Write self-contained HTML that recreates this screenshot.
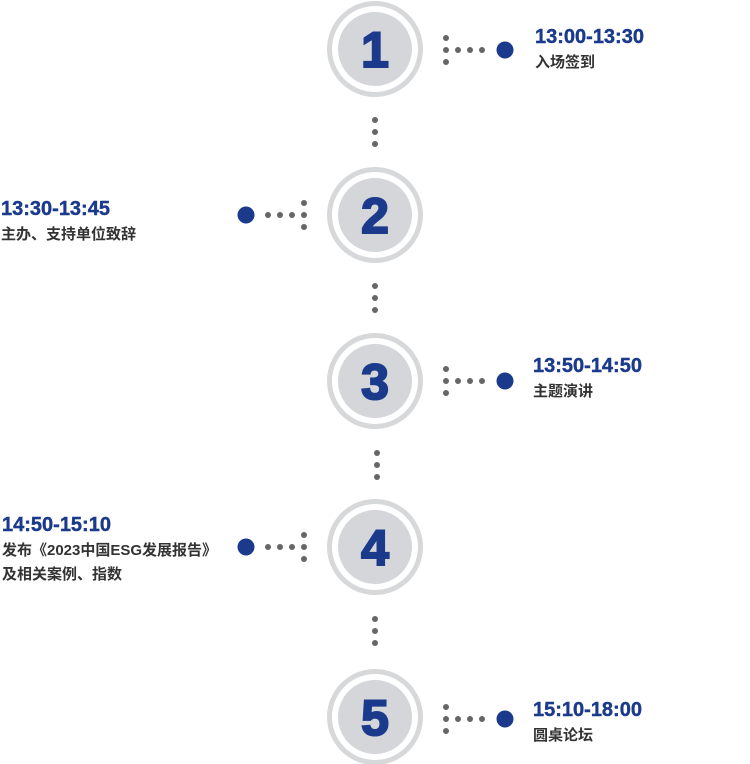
<!DOCTYPE html>
<html><head><meta charset="utf-8"><style>
html,body{margin:0;padding:0;background:#fff;width:750px;height:764px;overflow:hidden}
svg text{font-family:"Liberation Sans","Noto Sans CJK SC",sans-serif}
.t{fill:#1b3a8c;font-weight:bold;font-size:20px;stroke:#1b3a8c;stroke-width:0.4}
.s{fill:#333;font-size:15px;font-weight:bold}
.n{fill:#1b3a8c;font-weight:bold;font-size:50px;stroke:#1b3a8c;stroke-width:2}
</style></head><body>
<svg width="750" height="764" xmlns="http://www.w3.org/2000/svg">
<defs>
<g id="c"><circle r="48" fill="#d7d8da"/><circle r="43" fill="#fff"/><circle r="37" fill="#d5d6d9"/></g>
<g id="R" fill="#666"><circle cx="71" cy="-12" r="3"/><circle cx="71" cy="0" r="3"/><circle cx="71" cy="12" r="3"/><circle cx="83" cy="0" r="3"/><circle cx="95" cy="0" r="3"/><circle cx="107" cy="0" r="3"/><circle cx="130" cy="0" r="8.5" fill="#1b3a8c"/></g>
<g id="L" fill="#666"><circle cx="-71" cy="-12" r="3"/><circle cx="-71" cy="0" r="3"/><circle cx="-71" cy="12" r="3"/><circle cx="-83" cy="0" r="3"/><circle cx="-95" cy="0" r="3"/><circle cx="-107" cy="0" r="3"/><circle cx="-129" cy="0" r="8.5" fill="#1b3a8c"/></g>
<g id="V" fill="#666"><circle cy="0" r="3"/><circle cy="12" r="3"/><circle cy="24" r="3"/></g>
</defs>
<use href="#c" x="375" y="49"/><use href="#c" x="375" y="215"/><use href="#c" x="375" y="381"/><use href="#c" x="375" y="547"/><use href="#c" x="375" y="717"/>
<text class="n" x="375" y="67" text-anchor="middle">1</text>
<text class="n" x="375" y="233" text-anchor="middle">2</text>
<text class="n" x="375" y="399" text-anchor="middle">3</text>
<text class="n" x="375" y="565" text-anchor="middle">4</text>
<text class="n" x="375" y="735" text-anchor="middle">5</text>
<use href="#V" x="375" y="120"/><use href="#V" x="375" y="286"/><use href="#V" x="377" y="453"/><use href="#V" x="375" y="619"/>
<use href="#R" x="375" y="50"/><use href="#L" x="375" y="215"/><use href="#R" x="375" y="381"/><use href="#L" x="375" y="547"/><use href="#R" x="375" y="719"/>
<text class="t" x="535" y="43">13:00-13:30</text><text class="s" x="535" y="67">入场签到</text>
<text class="t" x="1" y="215">13:30-13:45</text><text class="s" x="1" y="239">主办、支持单位致辞</text>
<text class="t" x="533" y="372">13:50-14:50</text><text class="s" x="533" y="396">主题演讲</text>
<text class="t" x="2" y="531">14:50-15:10</text><text class="s" x="2" y="555">发布《2023中国ESG发展报告》</text><text class="s" x="2" y="579">及相关案例、指数</text>
<text class="t" x="533" y="716">15:10-18:00</text><text class="s" x="533" y="740">圆桌论坛</text>
</svg>
</body></html>
